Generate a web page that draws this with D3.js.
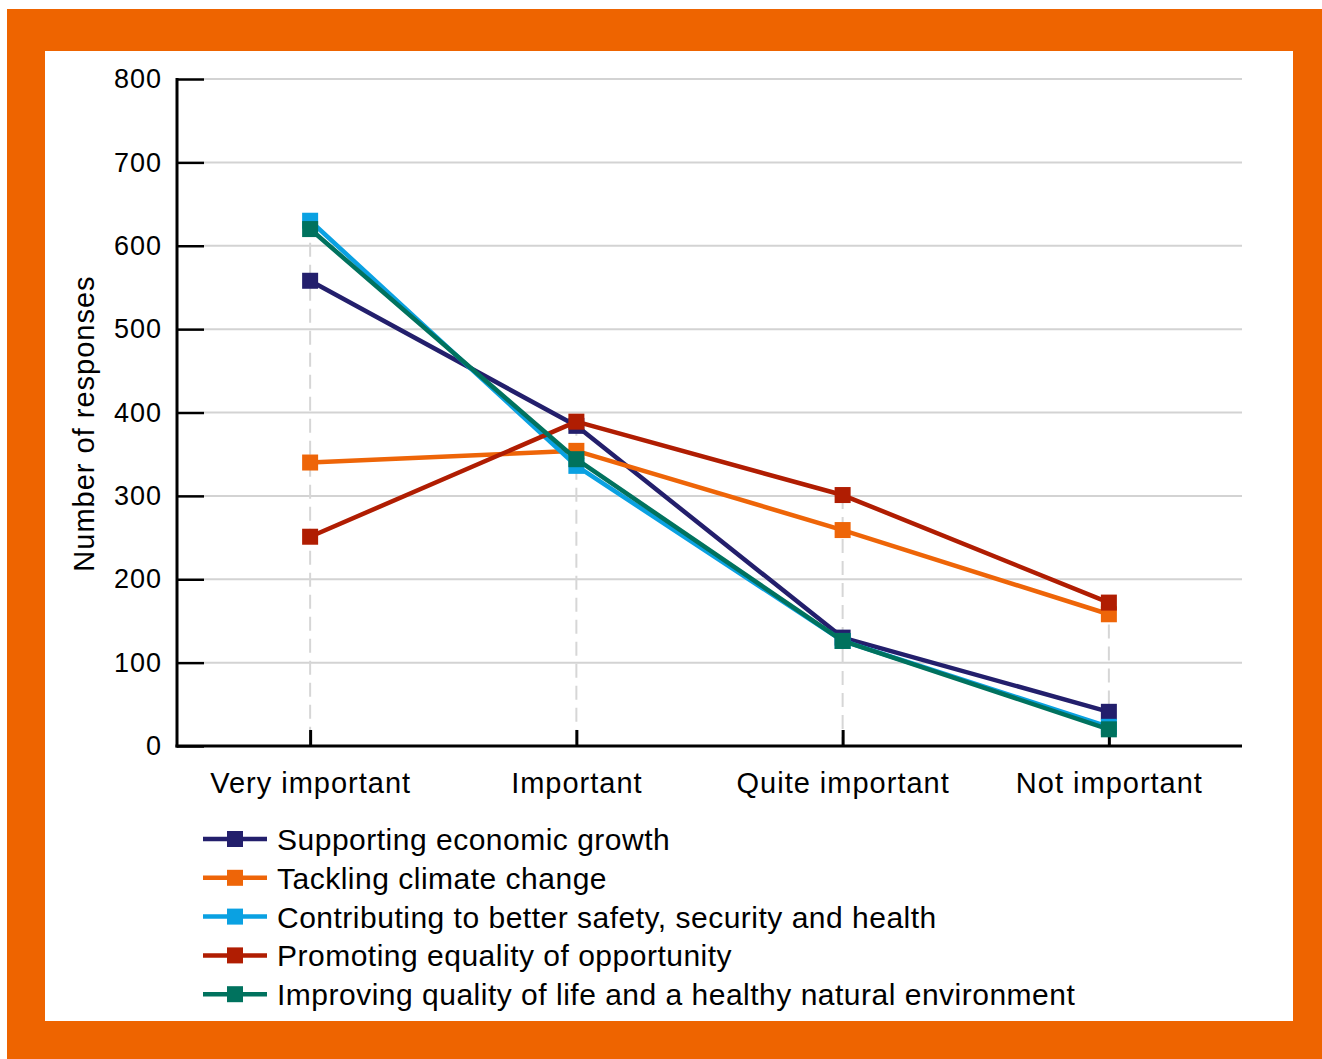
<!DOCTYPE html>
<html>
<head>
<meta charset="utf-8">
<script src="https://cdn.jsdelivr.net/npm/d3@7"></script>
<style>
  html, body { margin: 0; padding: 0; background: #ffffff; }
  svg { display: block; font-family: "Liberation Sans", Arial, Helvetica, sans-serif; }
</style>
</head>
<body>
<svg id="chart" width="1322" height="1059"></svg>
<script>
// Survey answers: how important each objective is
const categories = ["Very important", "Important", "Quite important", "Not important"];
const seriesNames = [
  "Supporting economic growth",
  "Tackling climate change",
  "Contributing to better safety, security and health",
  "Promoting equality of opportunity",
  "Improving quality of life and a healthy natural environment"
];
const economicGrowth   = [558, 384, 130, 41];
const climateChange    = [340, 354, 259, 158];
const safetyHealth     = [630, 336, 126, 23];
const equality         = [251, 389, 301, 172];
const qualityOfLife    = [620, 344, 126, 20];
const yTicks = [0, 100, 200, 300, 400, 500, 600, 700, 800];
const yLabel = "Number of responses";

const seriesValues = [economicGrowth, climateChange, safetyHealth, equality, qualityOfLife];
const colors = ["#231f6c", "#ee6508", "#0aa1e2", "#b01d02", "#00725e"];

const svg = d3.select("#chart");

// Orange frame with white panel
svg.append("rect").attr("x", 7).attr("y", 9).attr("width", 1315).attr("height", 1050).attr("fill", "#ee6400");
svg.append("rect").attr("x", 45).attr("y", 51).attr("width", 1248).attr("height", 970).attr("fill", "#ffffff");

const plotLeft = 177, plotRight = 1242, plotTop = 79, plotBottom = 746;

const x = d3.scalePoint().domain(categories).range([plotLeft, plotRight]).padding(0.5);
const y = d3.scaleLinear().domain([0, 800]).range([plotBottom, plotTop]);

// Horizontal gridlines
svg.append("g").selectAll("line").data(yTicks.filter(t => t > 0)).join("line")
  .attr("x1", plotLeft + 27).attr("x2", plotRight)
  .attr("y1", d => y(d)).attr("y2", d => y(d))
  .attr("stroke", "#d3d3d3").attr("stroke-width", 2);

// Drop lines from each category's highest value to the axis
svg.append("g").selectAll("line").data(categories).join("line")
  .attr("x1", d => x(d)).attr("x2", d => x(d))
  .attr("y1", (d, i) => y(d3.max(seriesValues, s => s[i])))
  .attr("y2", plotBottom)
  .attr("stroke", "#d6d6d6").attr("stroke-width", 2).attr("stroke-dasharray", "14,8");

// Y axis
const yAxis = d3.axisLeft(y).tickValues(yTicks).tickSize(-27).tickPadding(15).tickFormat(d3.format("d"));
const gy = svg.append("g").attr("transform", `translate(${plotLeft},0)`).call(yAxis);
gy.select(".domain").remove();
gy.selectAll(".tick line").attr("stroke", "#000").attr("stroke-width", 2.5);
gy.selectAll(".tick text").attr("font-size", 27).attr("letter-spacing", 1).attr("fill", "#000")
  .attr("font-family", "\"Liberation Sans\", Arial, sans-serif");
svg.append("line").attr("x1", plotLeft).attr("x2", plotLeft).attr("y1", plotTop - 1).attr("y2", plotBottom + 1.5)
  .attr("stroke", "#000").attr("stroke-width", 3);

// X axis
const xAxis = d3.axisBottom(x).tickSize(-16).tickPadding(26);
const gx = svg.append("g").attr("transform", `translate(0,${plotBottom})`).call(xAxis);
gx.select(".domain").remove();
gx.selectAll(".tick line").attr("stroke", "#000").attr("stroke-width", 3);
gx.selectAll(".tick text").attr("font-size", 29).attr("letter-spacing", 1).attr("fill", "#000")
  .attr("font-family", "\"Liberation Sans\", Arial, sans-serif");
svg.append("line").attr("x1", plotLeft - 1.5).attr("x2", plotRight).attr("y1", plotBottom).attr("y2", plotBottom)
  .attr("stroke", "#000").attr("stroke-width", 3);

// Y axis title
svg.append("text")
  .attr("transform", `translate(94,${(plotTop + plotBottom) / 2 + 11}) rotate(-90)`)
  .attr("text-anchor", "middle").attr("font-size", 29).attr("letter-spacing", 1)
  .text(yLabel);

// Series lines and square markers
const line = d3.line().x((d, i) => x(categories[i])).y(d => y(d));
const gSeries = svg.append("g");
seriesValues.forEach((vals, si) => {
  const g = gSeries.append("g");
  g.append("path").datum(vals).attr("d", line)
    .attr("fill", "none").attr("stroke", colors[si]).attr("stroke-width", 4.5)
    .attr("stroke-linejoin", "round");
  g.selectAll("rect").data(vals).join("rect")
    .attr("x", (d, i) => x(categories[i]) - 8).attr("y", d => y(d) - 8)
    .attr("width", 16).attr("height", 16).attr("fill", colors[si]);
});

// Legend
const legend = svg.append("g");
seriesNames.forEach((name, i) => {
  const cy = 839 + i * 38.8;
  const g = legend.append("g").attr("transform", `translate(0,${cy})`);
  g.append("line").attr("x1", 203).attr("x2", 267).attr("y1", 0).attr("y2", 0)
    .attr("stroke", colors[i]).attr("stroke-width", 4.5);
  g.append("rect").attr("x", 227).attr("y", -8).attr("width", 16).attr("height", 16).attr("fill", colors[i]);
  g.append("text").attr("x", 277).attr("y", 11).attr("font-size", 30).attr("letter-spacing", 0.5)
    .attr("fill", "#000").text(name);
});
</script>
</body>
</html>
